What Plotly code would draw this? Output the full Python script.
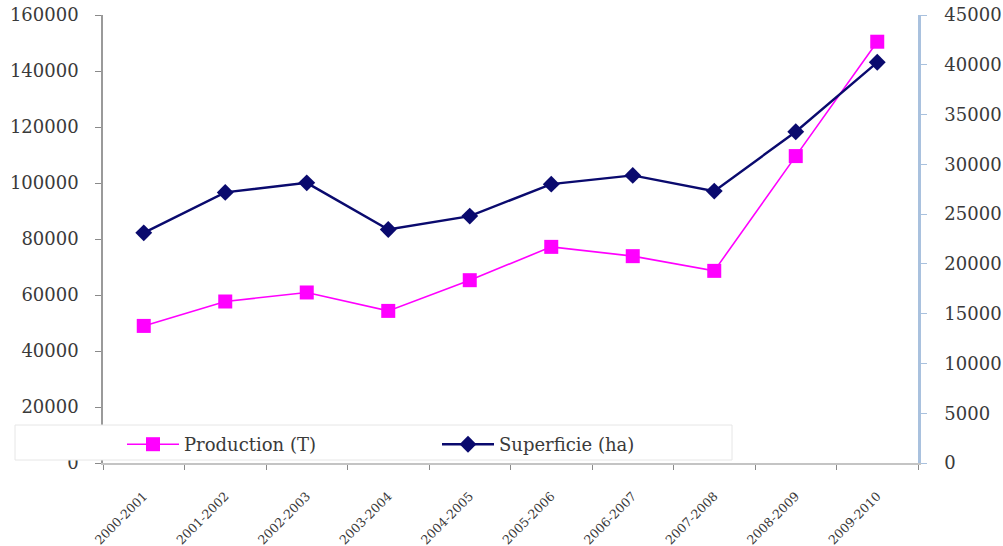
import plotly.graph_objects as go

campagnes = ["2000-2001", "2001-2002", "2002-2003", "2003-2004", "2004-2005",
             "2005-2006", "2006-2007", "2007-2008", "2008-2009", "2009-2010"]
production_t = [48960, 57680, 60900, 54320, 65290, 77190, 73870, 68620, 109610, 150460]
superficie_ha = [23120, 27180, 28140, 23460, 24800, 28010, 28890, 27310, 33270, 40250]

left_ticks = [0, 20000, 40000, 60000, 80000, 100000, 120000, 140000, 160000]
right_ticks = [0, 5000, 10000, 15000, 20000, 25000, 30000, 35000, 40000, 45000]

FONT = "DejaVu Serif"
TXT = "#3a3a3a"

fig = go.Figure()
fig.add_trace(go.Scatter(
    x=campagnes, y=production_t, name="Production (T)", mode="lines+markers",
    line=dict(color="#ff00ff", width=1.6),
    marker=dict(symbol="square", size=14, color="#ff00ff"),
    yaxis="y",
))
fig.add_trace(go.Scatter(
    x=campagnes, y=superficie_ha, name="Superficie (ha)", mode="lines+markers",
    line=dict(color="#0a0a6e", width=2.4),
    marker=dict(symbol="diamond", size=13, color="#0a0a6e"),
    yaxis="y2",
))

W, H = 1003, 546
ml, mr, mt, mb = 103, 85, 15, 83
pw, ph = W - ml - mr, H - mt - mb

def px_to_paper_x(px):
    return (px - ml) / pw

def px_to_paper_y(py):
    return (H - mb - py) / ph

fig.add_shape(type="rect", xref="paper", yref="paper",
              x0=px_to_paper_x(15), x1=px_to_paper_x(732),
              y0=px_to_paper_y(460), y1=px_to_paper_y(425),
              line=dict(color="#e6e6e6", width=1), fillcolor="white", layer="above")

fig.update_layout(
    width=W, height=H,
    margin=dict(l=ml, r=mr, t=mt, b=mb, autoexpand=False),
    plot_bgcolor="white", paper_bgcolor="white",
    font=dict(family=FONT, size=18, color=TXT),
    showlegend=True,
    legend=dict(orientation="h", x=px_to_paper_x(122), y=px_to_paper_y(426),
                xanchor="left", yanchor="top", bgcolor="rgba(0,0,0,0)",
                font=dict(family=FONT, size=18, color=TXT),
                entrywidth=248, entrywidthmode="pixels", itemwidth=52),
    xaxis=dict(
        type="category", range=[-0.5, 9.5], automargin=False,
        showline=True, linecolor="#c4c4c4", linewidth=2,
        ticks="outside", ticklen=5, tickcolor="#8a8a8a", tickson="boundaries",
        tickangle=-45, tickfont=dict(family=FONT, size=12.5, color=TXT),
        ticklabelstandoff=19,
        showgrid=False, zeroline=False,
    ),
    yaxis=dict(
        range=[0, 160000], tickvals=left_ticks, ticktext=[str(v) for v in left_ticks],
        automargin=False,
        showline=True, linecolor="#9a9a9a", linewidth=1.5,
        ticks="outside", ticklen=6, tickcolor="#8a8a8a",
        tickfont=dict(family=FONT, size=18, color=TXT), ticklabelstandoff=13,
        showgrid=False, zeroline=False,
    ),
    yaxis2=dict(
        range=[0, 45000], tickvals=right_ticks, ticktext=[str(v) for v in right_ticks],
        overlaying="y", side="right", automargin=False,
        showline=True, linecolor="#a9c1de", linewidth=2.5,
        ticks="outside", ticklen=6, tickcolor="#a9c1de",
        tickfont=dict(family=FONT, size=18, color=TXT), ticklabelstandoff=14,
        showgrid=False, zeroline=False,
    ),
)

fig.write_html("out.html")
